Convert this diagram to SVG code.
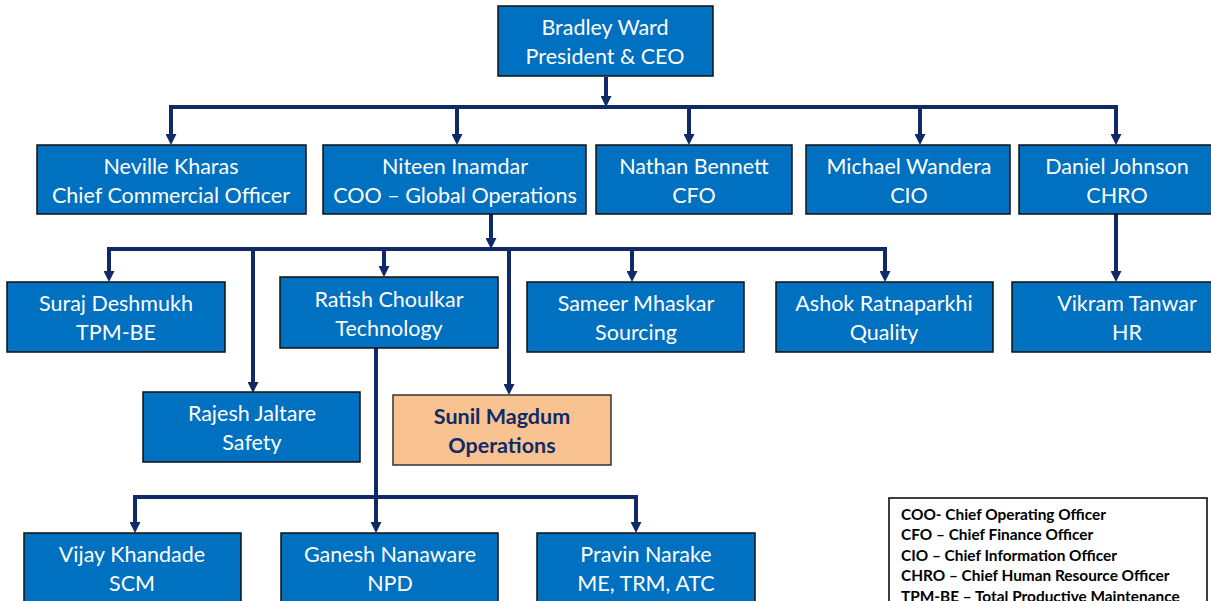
<svg xmlns="http://www.w3.org/2000/svg" width="1211" height="601" viewBox="0 0 1211 601">
<defs>
<marker id="arr" markerWidth="11" markerHeight="11" refX="0" refY="5.5" orient="auto" markerUnits="userSpaceOnUse">
<path d="M0,0 L11,5.5 L0,11 z" fill="#0F2A66"/>
</marker>
<style>
.box{fill:#0070C0;stroke:#111;stroke-width:1.5}
.hl{fill:#F8C291;stroke:#333;stroke-width:1.5}
.t{font-family:Lato,"Open Sans","Liberation Sans",sans-serif;font-size:21.5px;fill:#fff;text-anchor:middle}
.tb{font-family:Lato,"Open Sans","Liberation Sans",sans-serif;font-size:21.5px;font-weight:bold;fill:#0F2A66;text-anchor:middle}
.ln{stroke:#0F2A66;stroke-width:4;fill:none}
.a{stroke:#0F2A66;stroke-width:4;fill:none;marker-end:url(#arr)}
.lg{font-family:Lato,"Open Sans","Liberation Sans",sans-serif;font-size:15.4px;font-weight:bold;fill:#000}
</style>
</defs>
<rect width="1211" height="601" fill="#fff"/>
<g id="connectors">
<line class="a" x1="606" y1="77" x2="606" y2="96"/>
<line class="ln" x1="169" y1="107" x2="1118" y2="107"/>
<line class="a" x1="171" y1="107" x2="171" y2="134"/>
<line class="a" x1="457" y1="107" x2="457" y2="134"/>
<line class="a" x1="689" y1="107" x2="689" y2="134"/>
<line class="a" x1="920" y1="107" x2="920" y2="134"/>
<line class="a" x1="1116" y1="105" x2="1116" y2="134"/>
<line class="a" x1="491" y1="214" x2="491" y2="238"/>
<line class="ln" x1="107" y1="249" x2="887" y2="249"/>
<line class="a" x1="109" y1="247" x2="109" y2="271"/>
<line class="a" x1="253" y1="249" x2="253" y2="382"/>
<line class="a" x1="384" y1="249" x2="384" y2="266"/>
<line class="a" x1="509" y1="249" x2="509" y2="384"/>
<line class="a" x1="632" y1="249" x2="632" y2="271"/>
<line class="a" x1="885" y1="247" x2="885" y2="271"/>
<line class="a" x1="1116" y1="214" x2="1116" y2="271"/>
<line class="ln" x1="376" y1="348" x2="376" y2="497"/>
<line class="ln" x1="133" y1="497" x2="638" y2="497"/>
<line class="a" x1="135" y1="495" x2="135" y2="522"/>
<line class="a" x1="376" y1="497" x2="376" y2="522"/>
<line class="a" x1="636" y1="495" x2="636" y2="522"/>
</g>
<g id="n-bradley"><rect class="box" x="498" y="6" width="215" height="70"/><text class="t" x="605" y="35">Bradley Ward</text><text class="t" x="605" y="64">President &amp; CEO</text></g>
<g id="n-neville"><rect class="box" x="37" y="145" width="269" height="69"/><text class="t" x="171" y="174">Neville Kharas</text><text class="t" x="171" y="203">Chief Commercial Officer</text></g>
<g id="n-niteen"><rect class="box" x="323" y="145" width="263" height="69"/><text class="t" x="455" y="174">Niteen Inamdar</text><text class="t" x="455" y="203">COO – Global Operations</text></g>
<g id="n-nathan"><rect class="box" x="596" y="145" width="196" height="69"/><text class="t" x="694" y="174">Nathan Bennett</text><text class="t" x="694" y="203">CFO</text></g>
<g id="n-michael"><rect class="box" x="806" y="145" width="204" height="69"/><text class="t" x="909" y="174">Michael Wandera</text><text class="t" x="909" y="203">CIO</text></g>
<g id="n-daniel"><rect class="box" x="1019" y="145" width="196" height="69"/><text class="t" x="1117" y="174">Daniel Johnson</text><text class="t" x="1117" y="203">CHRO</text></g>
<g id="n-suraj"><rect class="box" x="7" y="282" width="218" height="70"/><text class="t" x="116" y="311">Suraj Deshmukh</text><text class="t" x="116" y="340">TPM-BE</text></g>
<g id="n-ratish"><rect class="box" x="280" y="277" width="218" height="71"/><text class="t" x="389" y="307">Ratish Choulkar</text><text class="t" x="389" y="336">Technology</text></g>
<g id="n-sameer"><rect class="box" x="527" y="282" width="217" height="70"/><text class="t" x="636" y="311">Sameer Mhaskar</text><text class="t" x="636" y="340">Sourcing</text></g>
<g id="n-ashok"><rect class="box" x="776" y="282" width="217" height="70"/><text class="t" x="884" y="311">Ashok Ratnaparkhi</text><text class="t" x="884" y="340">Quality</text></g>
<g id="n-vikram"><rect class="box" x="1012" y="282" width="203" height="70"/><text class="t" x="1127" y="311">Vikram Tanwar</text><text class="t" x="1127" y="340">HR</text></g>
<g id="n-rajesh"><rect class="box" x="143" y="392" width="217" height="70"/><text class="t" x="252" y="421">Rajesh Jaltare</text><text class="t" x="252" y="450">Safety</text></g>
<g id="n-sunil"><rect class="hl" x="393" y="395" width="218" height="70"/><text class="tb" x="502" y="424">Sunil Magdum</text><text class="tb" x="502" y="453">Operations</text></g>
<g id="n-vijay"><rect class="box" x="24" y="533" width="217" height="72"/><text class="t" x="132" y="562">Vijay Khandade</text><text class="t" x="132" y="591">SCM</text></g>
<g id="n-ganesh"><rect class="box" x="281" y="533" width="217" height="72"/><text class="t" x="390" y="562">Ganesh Nanaware</text><text class="t" x="390" y="591">NPD</text></g>
<g id="n-pravin"><rect class="box" x="537" y="533" width="218" height="72"/><text class="t" x="646" y="562">Pravin Narake</text><text class="t" x="646" y="591">ME, TRM, ATC</text></g>
<g id="legend">
<rect x="889" y="498" width="318" height="110" fill="#fff" stroke="#000" stroke-width="1.5"/>
<text class="lg" x="901" y="520">COO- Chief Operating Officer</text>
<text class="lg" x="901" y="540">CFO – Chief Finance Officer</text>
<text class="lg" x="901" y="561">CIO – Chief Information Officer</text>
<text class="lg" x="901" y="581">CHRO – Chief Human Resource Officer</text>
<text class="lg" x="901" y="602">TPM-BE – Total Productive Maintenance</text>
</g>
</svg>
